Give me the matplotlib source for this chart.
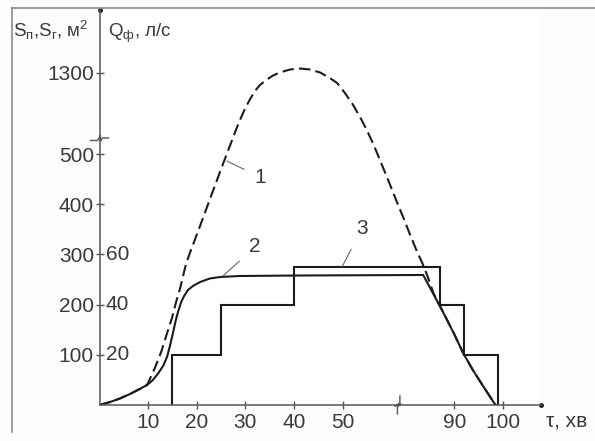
import numpy as np
import matplotlib.pyplot as plt
from matplotlib.transforms import IdentityTransform

plt.rcParams['font.family'] = ['Liberation Sans', 'DejaVu Sans']
plt.rcParams['mathtext.fontset'] = 'custom'
plt.rcParams['mathtext.rm'] = 'Liberation Sans'
plt.rcParams['mathtext.it'] = 'Liberation Sans:italic'

# curve 1 (dashed) - S_п, m2
tau_1 = [0, 2.2, 4.2, 6.3, 8.3, 9.8, 11.4, 12.7, 13.7, 14.9, 15.7, 16.6, 17.2,
         17.8, 18.6, 20.7, 23.1, 25.4, 26.9, 27.9, 28.9, 29.9, 31.0, 32.0,
         33.0, 34.3, 35.7, 37.1, 39.2, 41.3, 43.3, 45.4, 47.4, 48.9, 50.5,
         52.2, 53.6, 55.0, 56.5, 57.7, 59.4, 61.2, 79.7, 80.9, 82.1, 83.4,
         84.4, 85.7, 87.8, 89.9, 91.8, 93.8, 95.9, 98.2, 98.5]
s_1 = [0, 6, 13, 22, 32, 40, 74, 106, 137, 173, 203, 233, 257,
       281, 303, 357, 420, 480, 518, 610, 749, 877, 993, 1086,
       1155, 1213, 1265, 1300, 1335, 1346, 1335, 1300, 1236, 1178, 1062,
       923, 784, 634, 516, 488, 448, 404, 369, 339, 311, 283,
       259, 223, 183, 143, 104, 70, 38, 4, 0]

# curve 2 (solid) - S_г, m2
tau_2 = [0, 2.2, 4.2, 6.3, 8.3, 9.8, 11.0, 12.0, 13.1, 13.9, 14.5, 15.1, 15.7,
         16.2, 16.8, 17.4, 18.2, 19.2, 20.7, 22.7, 24.8, 28.9, 41.3, 83.6,
         85.7, 87.8, 89.9, 91.8, 93.8, 95.9, 98.2, 98.5]
s_2 = [0, 6, 13, 22, 32, 40, 50, 62, 78, 96, 118, 143, 169,
       187, 205, 217, 229, 237, 245, 252, 255, 257, 258, 259,
       221, 183, 143, 104, 70, 38, 4, 0]

# curve 3 (steps) - Q_ф, l/s
q_edges = [15, 25, 40, 87, 92, 99]
q_vals = [20, 40, 55, 40, 20]

x_ticks = [10, 20, 30, 40, 50, 90, 100]
s_ticks = [100, 200, 300, 400, 500, 1300]
q_ticks = [20, 40, 60]

# broken axes as piecewise linear scales
XR = [-100, 61.4, 78.6, 300]
XD = [-100, 61.4, 61.6, 283]
YR = [-1000, 530, 5000]
YD = [-1000, 530, 530 + 4470 * 0.1719]


def fx(v):
    return np.interp(v, XR, XD)


def ix(v):
    return np.interp(v, XD, XR)


def fy(v):
    return np.interp(v, YR, YD)


def iy(v):
    return np.interp(v, YD, YR)


ink = '#1c1c1c'
txt = '#3a3a3a'
axc = '#555555'
fs = 15

fig = plt.figure(figsize=(5.95, 4.41), dpi=100)
ax = fig.add_axes([99.5 / 595, 36 / 441, 441.5 / 595, 395 / 441])
ax.set_xscale('function', functions=(fx, ix))
ax.set_yscale('function', functions=(fy, iy))
ax.set_xlim(0, ix(90.84))
ax.set_ylim(0, iy(786.9))

ax.plot(tau_1, s_1, color=ink, lw=1.5, ls=(0, (5.5, 2.5)))
ax.plot(tau_2, s_2, color=ink, lw=1.5)
ax.stairs(np.array(q_vals) * 5, q_edges, baseline=0, color=ink, lw=1.5)

for s in ['top', 'right']:
    ax.spines[s].set_visible(False)
for s in ['left', 'bottom']:
    ax.spines[s].set_color(axc)
    ax.spines[s].set_linewidth(1.1)

ax.set_xticks(x_ticks)
ax.set_yticks(s_ticks)
ax.set_xticklabels([str(t) for t in x_ticks])
ax.set_yticklabels([str(t) for t in s_ticks])
ax.tick_params(direction='inout', length=6, width=1, color=axc,
               labelsize=fs, labelcolor=txt)
ax.tick_params(axis='y', pad=1)
ax.tick_params(axis='x', pad=3)

for q in q_ticks:
    ax.annotate(str(q), xy=(0, q * 5), xycoords=ax.get_yaxis_transform(),
                xytext=(4.5, 0), textcoords='offset points',
                ha='left', va='center', fontsize=fs, color=txt)

# axis end dots
ax.plot([0], [ax.get_ylim()[1]], 'o', ms=2.5, color=ink, clip_on=False)
ax.plot([ax.get_xlim()[1]], [0], 'o', ms=2.5, color=ink, clip_on=False)

# curve labels
ax.annotate('1', xy=(26.2, 486), xytext=(33.1, 454), fontsize=fs, color=txt,
            ha='center', va='center',
            arrowprops=dict(arrowstyle='-', color='#666666', lw=0.8,
                            shrinkA=6, shrinkB=0))
ax.annotate('2', xy=(25.4, 257), xytext=(32.0, 315), fontsize=fs, color=txt,
            ha='center', va='center',
            arrowprops=dict(arrowstyle='-', color='#666666', lw=0.8,
                            shrinkA=7, shrinkB=0))
ax.annotate('3', xy=(49.9, 275), xytext=(54.0, 352), fontsize=fs, color=txt,
            ha='center', va='center',
            arrowprops=dict(arrowstyle='-', color='#666666', lw=0.8,
                            shrinkA=7, shrinkB=0))

# break marks
fig.canvas.draw()
by = ax.transData.transform((0, 530))
zy = np.array([(-9, -1.5), (-2, -1.5), (1, 3.5), (1, -2.5), (3, 1), (9, 1)]) + by
ax.plot(zy[:, 0], zy[:, 1], color=axc, lw=1, transform=IdentityTransform(),
        clip_on=False)
bx = ax.transData.transform((70, 0))
zx = np.array([(1.5, 9), (1.5, 2), (-3.5, -1), (2.5, 1), (-1, -2), (-1, -9)]) + bx
ax.plot(zx[:, 0], zx[:, 1], color=axc, lw=1, transform=IdentityTransform(),
        clip_on=False)

# axis titles
fig.text(13 / 595, 1 - 37 / 441, r'S$_\mathrm{п}$,S$_\mathrm{г}$, м$^2$',
         fontsize=13.5, color=txt, va='baseline')
fig.text(108 / 595, 1 - 37 / 441, r'Q$_\mathrm{ф}$, л/с',
         fontsize=13.5, color=txt, va='baseline')
fig.text(546 / 595, 1 - 421 / 441, 'τ, хв', fontsize=fs, color=txt,
         va='center')

# picture frame
fig.add_artist(plt.Line2D([12 / 595, 12 / 595], [1 - 432 / 441, 1 - 8 / 441],
                          color='#8a8a8a', lw=1.2))
fig.add_artist(plt.Line2D([12 / 595, 1], [1 - 8 / 441, 1 - 8 / 441],
                          color='#8a8a8a', lw=1.2))

fig.savefig('out.png', dpi=100, facecolor='#fdfdfb')
